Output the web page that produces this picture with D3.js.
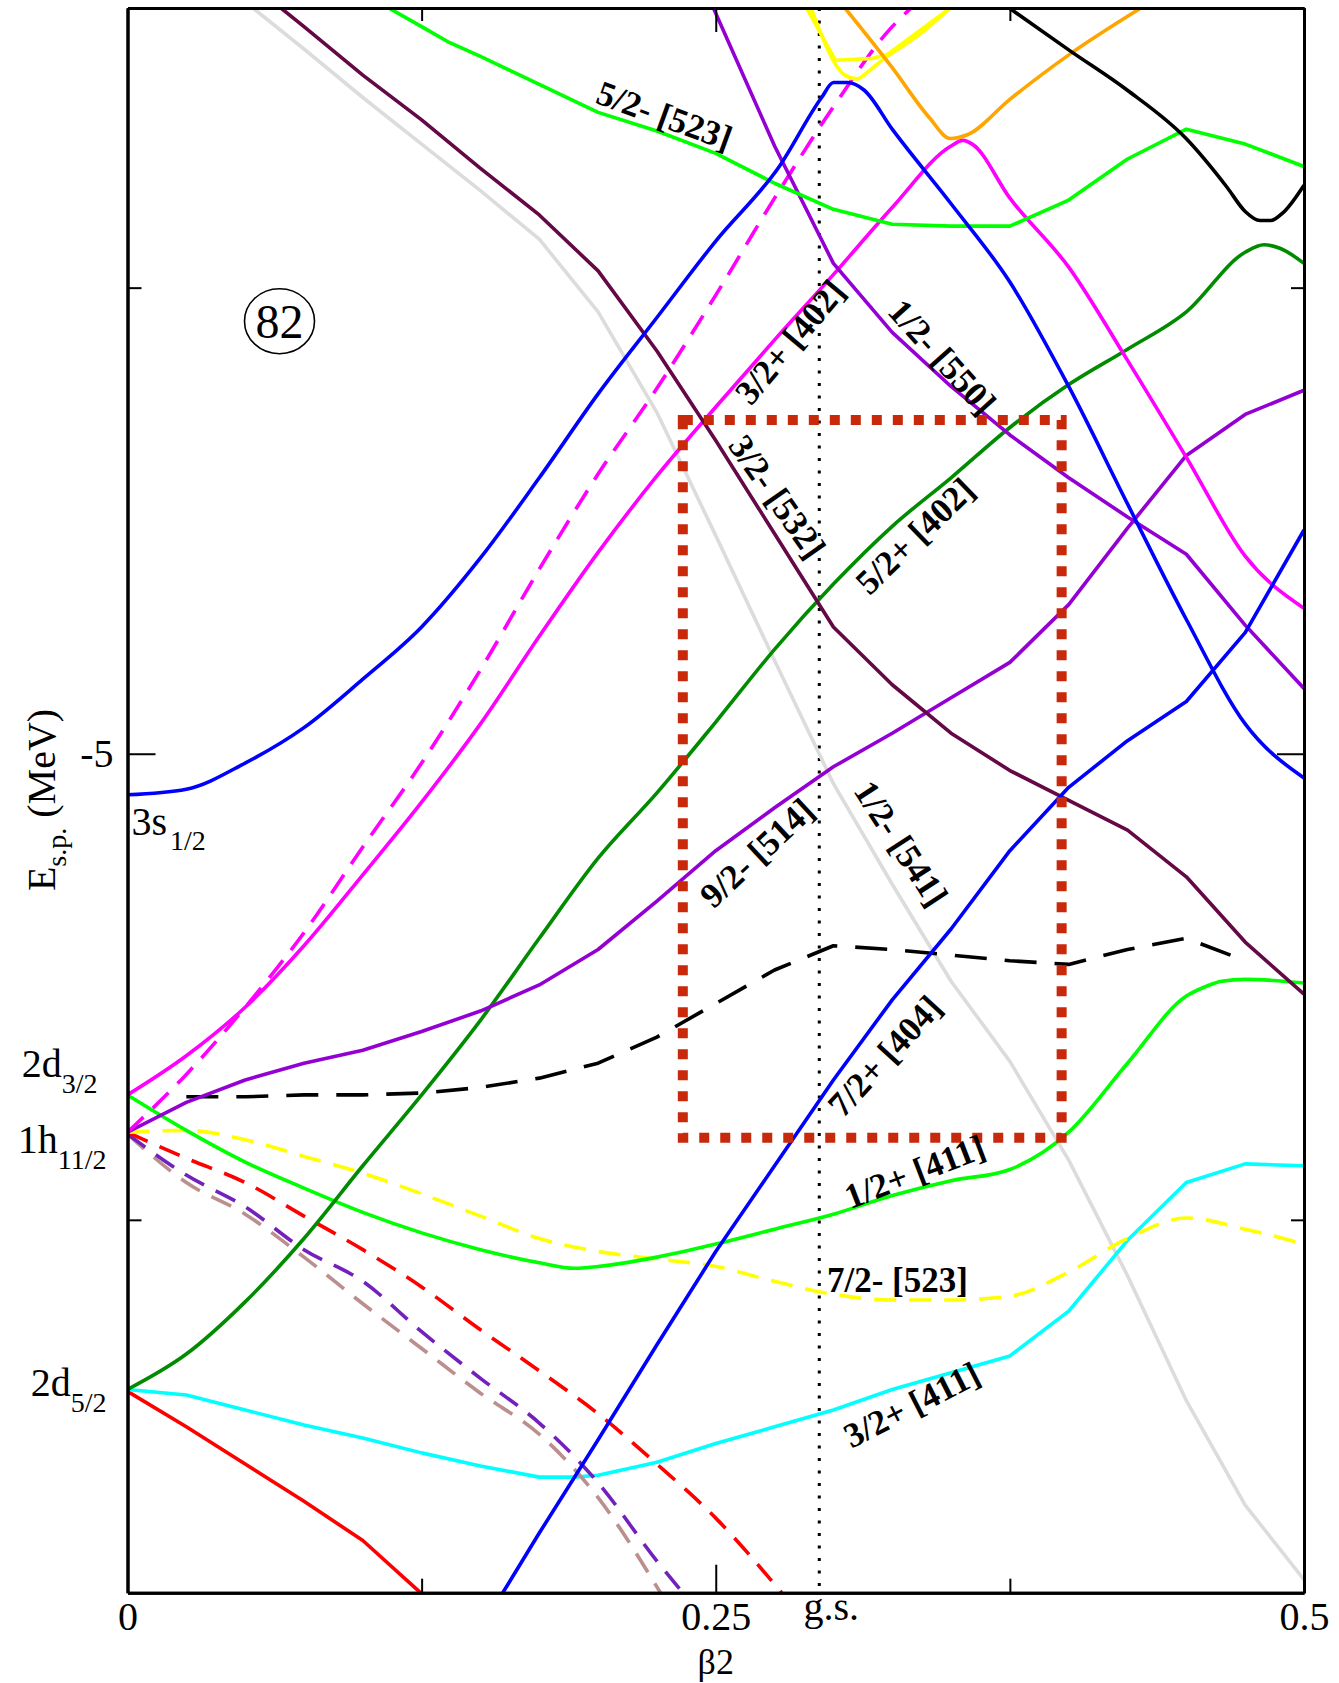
<!DOCTYPE html>
<html>
<head>
<meta charset="utf-8">
<script src="https://cdn.jsdelivr.net/npm/d3@7"></script>
<style>
  html, body { margin: 0; padding: 0; background: #fff; }
  svg { display: block; }
  text { font-family: "Liberation Serif", "Times New Roman", serif; fill: #000; }
</style>
</head>
<body>
<svg id="chart" width="1339" height="1683"></svg>
<script>
// ---------------- data: Nilsson single-particle levels, E (MeV) vs beta2 ----------------
const xMajorTicks = [0, 0.25, 0.5];
const xMajorLabels = ["0", "0.25", "0.5"];
const xMinorTicks = [0.125, 0.375];
const yMajorTicks = [-5];
const yMajorLabels = ["-5"];
const yMinorTicks = [-7.5, -2.5];

const groundStateBeta = 0.294;
const windowBeta = [0.236, 0.397];
const windowEnergy = [-7.06, -3.21];

// spherical parents at beta2 = 0
const sphericalNames = ["3s", "2d", "1h", "2d"];
const sphericalSubs = ["1/2", "3/2", "11/2", "5/2"];
const sphericalEnergy = [-5.22, -6.83, -7.03, -8.41];

// 1/2+ from 3s1/2
const blue3s = [[0,-5.22],[0.025,-5.19],[0.05,-5.05],[0.075,-4.86],[0.1,-4.60],[0.125,-4.32],[0.15,-3.95],[0.175,-3.52],[0.2,-3.07],[0.225,-2.66],[0.25,-2.25],[0.277,-1.85],[0.295,-1.48],[0.3,-1.40],[0.306,-1.40],[0.313,-1.44],[0.325,-1.65],[0.35,-2.05],[0.375,-2.47],[0.4,-3.03],[0.425,-3.66],[0.45,-4.28],[0.475,-4.84],[0.5,-5.13]];
// 1h11/2 branches
const magentaDashed = [[0,-7.03],[0.025,-6.72],[0.05,-6.36],[0.075,-5.96],[0.1,-5.50],[0.125,-5.05],[0.15,-4.55],[0.175,-4.01],[0.2,-3.50],[0.225,-3.04],[0.25,-2.54],[0.275,-2.02],[0.3,-1.53],[0.325,-1.10],[0.333,-1.0]];
const level9514 = [[0,-7.03],[0.025,-6.87],[0.05,-6.75],[0.075,-6.66],[0.1,-6.59],[0.125,-6.49],[0.15,-6.38],[0.175,-6.24],[0.2,-6.05],[0.225,-5.79],[0.25,-5.52],[0.275,-5.29],[0.3,-5.07],[0.325,-4.89],[0.35,-4.70],[0.375,-4.51],[0.4,-4.20],[0.425,-3.79],[0.45,-3.40],[0.475,-3.18],[0.5,-3.05]];
const level7523 = [[0,-7.03],[0.025,-7.02],[0.05,-7.07],[0.075,-7.16],[0.1,-7.25],[0.125,-7.36],[0.15,-7.48],[0.175,-7.60],[0.2,-7.67],[0.225,-7.71],[0.25,-7.75],[0.275,-7.83],[0.3,-7.90],[0.325,-7.93],[0.35,-7.93],[0.375,-7.91],[0.4,-7.78],[0.425,-7.60],[0.45,-7.49],[0.475,-7.55],[0.5,-7.63]];
const redDashed = [[0,-7.03],[0.025,-7.17],[0.05,-7.30],[0.075,-7.48],[0.1,-7.66],[0.125,-7.86],[0.15,-8.09],[0.175,-8.31],[0.2,-8.54],[0.225,-8.81],[0.25,-9.10],[0.278,-9.5]];
const indigoDashed = [[0,-7.04],[0.025,-7.26],[0.05,-7.43],[0.075,-7.66],[0.1,-7.83],[0.125,-8.10],[0.15,-8.35],[0.175,-8.59],[0.2,-8.91],[0.225,-9.33],[0.236,-9.5]];
const brownDashed = [[0,-7.04],[0.025,-7.30],[0.05,-7.47],[0.075,-7.70],[0.1,-7.95],[0.125,-8.19],[0.15,-8.43],[0.175,-8.65],[0.2,-8.99],[0.2265,-9.5]];
// 2d3/2 branches
const level32402 = [[0,-6.83],[0.025,-6.62],[0.05,-6.36],[0.075,-6.03],[0.1,-5.65],[0.125,-5.26],[0.15,-4.84],[0.175,-4.37],[0.2,-3.92],[0.225,-3.51],[0.25,-3.14],[0.275,-2.78],[0.3,-2.43],[0.325,-2.07],[0.35,-1.74],[0.355,-1.71],[0.359,-1.73],[0.375,-2.02],[0.4,-2.39],[0.425,-2.89],[0.45,-3.41],[0.475,-3.94],[0.5,-4.22]];
const level12411 = [[0,-6.83],[0.025,-7.02],[0.05,-7.19],[0.075,-7.33],[0.1,-7.46],[0.125,-7.57],[0.15,-7.66],[0.175,-7.73],[0.19,-7.76],[0.2,-7.75],[0.225,-7.70],[0.25,-7.63],[0.275,-7.55],[0.3,-7.47],[0.325,-7.37],[0.35,-7.29],[0.375,-7.23],[0.4,-7.03],[0.425,-6.66],[0.45,-6.30],[0.458,-6.25],[0.465,-6.22],[0.475,-6.21],[0.5,-6.23]];
// 2d5/2 branches
const level52402 = [[0,-8.41],[0.025,-8.22],[0.05,-7.94],[0.075,-7.60],[0.1,-7.21],[0.125,-6.83],[0.15,-6.43],[0.175,-5.99],[0.2,-5.56],[0.225,-5.21],[0.25,-4.83],[0.275,-4.44],[0.3,-4.09],[0.325,-3.78],[0.35,-3.52],[0.375,-3.25],[0.4,-3.02],[0.425,-2.83],[0.45,-2.63],[0.475,-2.31],[0.483,-2.27],[0.49,-2.29],[0.5,-2.37]];
const level32411 = [[0,-8.41],[0.025,-8.44],[0.05,-8.52],[0.075,-8.60],[0.1,-8.67],[0.125,-8.75],[0.15,-8.82],[0.175,-8.88],[0.19,-8.88],[0.2,-8.87],[0.225,-8.80],[0.25,-8.70],[0.275,-8.61],[0.3,-8.52],[0.325,-8.41],[0.35,-8.32],[0.375,-8.23],[0.4,-7.99],[0.425,-7.61],[0.45,-7.30],[0.475,-7.20],[0.5,-7.21]];
const redSolid = [[0,-8.42],[0.025,-8.61],[0.05,-8.81],[0.075,-9.01],[0.1,-9.22],[0.1245,-9.5]];
// intruder and high-lying orbitals
const level12550 = [[0.249,-1.0],[0.275,-1.74],[0.3,-2.37],[0.325,-2.74],[0.35,-3.03],[0.375,-3.29],[0.4,-3.52],[0.425,-3.73],[0.45,-3.93],[0.475,-4.31],[0.5,-4.65]];
const level32532 = [[0.0652,-1.0],[0.075,-1.10],[0.1,-1.36],[0.125,-1.60],[0.15,-1.86],[0.175,-2.11],[0.2,-2.41],[0.225,-2.84],[0.25,-3.32],[0.275,-3.82],[0.3,-4.32],[0.325,-4.63],[0.35,-4.89],[0.375,-5.09],[0.4,-5.25],[0.425,-5.41],[0.45,-5.66],[0.475,-6.01],[0.5,-6.29]];
const level12541 = [[0.0533,-1.0],[0.075,-1.22],[0.1,-1.48],[0.125,-1.73],[0.15,-1.98],[0.175,-2.24],[0.2,-2.63],[0.225,-3.17],[0.25,-3.83],[0.275,-4.50],[0.3,-5.16],[0.325,-5.70],[0.35,-6.22],[0.375,-6.65],[0.4,-7.18],[0.425,-7.80],[0.45,-8.47],[0.475,-9.03],[0.5,-9.43]];
const level52523 = [[0.111,-1.0],[0.125,-1.10],[0.136,-1.18],[0.15,-1.26],[0.175,-1.41],[0.2,-1.56],[0.225,-1.66],[0.25,-1.78],[0.275,-1.94],[0.3,-2.08],[0.325,-2.16],[0.35,-2.17],[0.375,-2.17],[0.4,-2.03],[0.425,-1.81],[0.45,-1.65],[0.475,-1.73],[0.5,-1.85]];
const level72404 = [[0.1595,-9.5],[0.175,-9.18],[0.2,-8.68],[0.225,-8.17],[0.25,-7.67],[0.275,-7.21],[0.3,-6.75],[0.325,-6.32],[0.35,-5.94],[0.375,-5.52],[0.4,-5.18],[0.425,-4.93],[0.45,-4.72],[0.475,-4.35],[0.5,-3.80]];
const blackDashed = [[0.025,-6.84],[0.05,-6.84],[0.075,-6.83],[0.1,-6.83],[0.125,-6.82],[0.15,-6.79],[0.175,-6.74],[0.2,-6.66],[0.225,-6.52],[0.25,-6.34],[0.275,-6.16],[0.3,-6.03],[0.325,-6.05],[0.35,-6.08],[0.375,-6.11],[0.4,-6.13],[0.425,-6.05],[0.45,-5.99],[0.475,-6.11]];
const yellowUpperA = [[0.2886,-1.0],[0.3008,-1.28],[0.3167,-1.27],[0.3228,-1.25],[0.3497,-1.0]];
const yellowUpperB = [[0.2905,-1.0],[0.3008,-1.30],[0.3048,-1.36],[0.3099,-1.38],[0.3149,-1.34],[0.3207,-1.28],[0.3368,-1.14],[0.3497,-1.0]];
const orangeLevel = [[0.3049,-1.0],[0.325,-1.32],[0.3409,-1.59],[0.3496,-1.70],[0.3569,-1.68],[0.375,-1.49],[0.4002,-1.25],[0.4307,-1.0]];
const blackSolid = [[0.3747,-1.0],[0.4006,-1.23],[0.4248,-1.44],[0.4499,-1.70],[0.4672,-1.96],[0.4749,-2.09],[0.4813,-2.14],[0.4859,-2.14],[0.4909,-2.10],[0.5,-1.95]];

// Nilsson labels Omega^pi [N nz Lambda]
const orbitalLabels = ["5/2- [523]", "3/2+ [402]", "1/2- [550]", "3/2- [532]", "5/2+ [402]", "9/2- [514]", "1/2- [541]", "7/2+ [404]", "1/2+ [411]", "7/2- [523]", "3/2+ [411]"];
const orbitalLabelBeta = [0.2283, 0.2814, 0.3464, 0.2763, 0.3345, 0.2674, 0.3289, 0.3217, 0.3345, 0.3272, 0.3332];
const orbitalLabelEnergy = [-1.575, -2.79, -2.87, -3.62, -3.83, -5.53, -5.48, -6.62, -7.24, -7.82, -8.49];
const orbitalLabelAngle = [20, -50, 48, 55, -44, -43, 57, -47.5, -21, 0, -27];

// ---------------- styles ----------------
const DASH = "22,13";
const levelStyles = [
  { pts: level12541,    color: "#dcdcdc", dash: null,    smooth: false },
  { pts: redSolid,      color: "#ff0000", dash: null,    smooth: false },
  { pts: level32411,    color: "#00ffff", dash: null,    smooth: false },
  { pts: brownDashed,   color: "#bc8f8f", dash: DASH,    smooth: true },
  { pts: indigoDashed,  color: "#7221bc", dash: DASH,    smooth: true },
  { pts: redDashed,     color: "#ff0000", dash: DASH,    smooth: true },
  { pts: level7523,     color: "#ffff00", dash: DASH,    smooth: true },
  { pts: level12411,    color: "#00ff00", dash: null,    smooth: true },
  { pts: blackDashed,   color: "#000000", dash: "32,18", smooth: false },
  { pts: level52402,    color: "#008b00", dash: null,    smooth: true },
  { pts: level9514,     color: "#9400d3", dash: null,    smooth: false },
  { pts: level32402,    color: "#ff00ff", dash: null,    smooth: true },
  { pts: magentaDashed, color: "#ff00ff", dash: DASH,    smooth: true },
  { pts: level32532,    color: "#640846", dash: null,    smooth: false },
  { pts: level12550,    color: "#9400d3", dash: null,    smooth: false },
  { pts: level52523,    color: "#00ff00", dash: null,    smooth: false },
  { pts: yellowUpperA,  color: "#ffff00", dash: null,    smooth: false },
  { pts: yellowUpperB,  color: "#ffff00", dash: null,    smooth: true },
  { pts: orangeLevel,   color: "#ffa500", dash: null,    smooth: true },
  { pts: blackSolid,    color: "#000000", dash: null,    smooth: true },
  { pts: blue3s,        color: "#0000ff", dash: null,    smooth: true },
  { pts: level72404,    color: "#0000ff", dash: null,    smooth: false }
];

// ---------------- drawing ----------------
const svg = d3.select("#chart");
const plot = { left: 127.5, right: 1304, top: 8, bottom: 1592.7 };
const x = d3.scaleLinear().domain([0, 0.5]).range([plot.left, plot.right]);
const y = d3.scaleLinear().domain([-9.5, -1]).range([plot.bottom, plot.top]);

svg.append("defs").append("clipPath").attr("id", "plotClip")
  .append("rect")
  .attr("x", plot.left).attr("y", plot.top)
  .attr("width", plot.right - plot.left).attr("height", plot.bottom - plot.top);

// ground-state deformation marker
svg.append("line")
  .attr("x1", x(groundStateBeta)).attr("x2", x(groundStateBeta))
  .attr("y1", y(-1)).attr("y2", y(-9.5))
  .attr("stroke", "#000").attr("stroke-width", 3)
  .attr("stroke-dasharray", "3,9.5");

const straight = d3.line().x(d => x(d[0])).y(d => y(d[1]));
const smoothLine = d3.line().x(d => x(d[0])).y(d => y(d[1])).curve(d3.curveMonotoneX);

svg.append("g").attr("clip-path", "url(#plotClip)")
  .selectAll("path")
  .data(levelStyles)
  .join("path")
  .attr("d", d => (d.smooth ? smoothLine : straight)(d.pts))
  .attr("fill", "none")
  .attr("stroke", d => d.color)
  .attr("stroke-width", 3.6)
  .attr("stroke-linejoin", "round")
  .attr("stroke-dasharray", d => d.dash);

// region of interest around the ground state
svg.append("rect")
  .attr("x", x(windowBeta[0])).attr("y", y(windowEnergy[1]))
  .attr("width", x(windowBeta[1]) - x(windowBeta[0]))
  .attr("height", y(windowEnergy[0]) - y(windowEnergy[1]))
  .attr("fill", "none")
  .attr("stroke", "#c8290b")
  .attr("stroke-width", 10)
  .attr("stroke-dasharray", "10,11");

// axes (ticks point inward on all four sides)
function styleAxis(g) {
  g.select(".domain").attr("stroke-width", 3);
  g.selectAll(".tick line").attr("stroke-width", 2);
  g.selectAll(".tick text").attr("font-size", 40)
    .attr("font-family", '"Liberation Serif", "Times New Roman", serif');
}
svg.append("g").attr("transform", `translate(0,${plot.bottom})`)
  .call(d3.axisBottom(x).tickValues(xMajorTicks).tickSizeInner(-28).tickSizeOuter(0)
    .tickPadding(9).tickFormat((d, i) => xMajorLabels[i]))
  .call(styleAxis);
svg.append("g").attr("transform", `translate(0,${plot.bottom})`)
  .call(d3.axisBottom(x).tickValues(xMinorTicks).tickSizeInner(-14).tickSizeOuter(0).tickFormat(""))
  .call(styleAxis);
svg.append("g").attr("transform", `translate(0,${plot.top})`)
  .call(d3.axisTop(x).tickValues(xMajorTicks).tickSizeInner(-24).tickSizeOuter(0).tickFormat(""))
  .call(styleAxis);
svg.append("g").attr("transform", `translate(0,${plot.top})`)
  .call(d3.axisTop(x).tickValues(xMinorTicks).tickSizeInner(-13).tickSizeOuter(0).tickFormat(""))
  .call(styleAxis);
svg.append("g").attr("transform", `translate(${plot.left},0)`)
  .call(d3.axisLeft(y).tickValues(yMajorTicks).tickSizeInner(-28).tickSizeOuter(0)
    .tickPadding(14).tickFormat((d, i) => yMajorLabels[i]))
  .call(styleAxis);
svg.append("g").attr("transform", `translate(${plot.left},0)`)
  .call(d3.axisLeft(y).tickValues(yMinorTicks).tickSizeInner(-14).tickSizeOuter(0).tickFormat(""))
  .call(styleAxis);
svg.append("g").attr("transform", `translate(${plot.right},0)`)
  .call(d3.axisRight(y).tickValues(yMajorTicks).tickSizeInner(-27).tickSizeOuter(0).tickFormat(""))
  .call(styleAxis);
svg.append("g").attr("transform", `translate(${plot.right},0)`)
  .call(d3.axisRight(y).tickValues(yMinorTicks).tickSizeInner(-13).tickSizeOuter(0).tickFormat(""))
  .call(styleAxis);

// axis titles
svg.append("text")
  .attr("x", x(0.25)).attr("y", 1674)
  .attr("text-anchor", "middle").attr("font-size", 36)
  .text("β2");

const yTitle = svg.append("text")
  .attr("transform", "translate(55,800) rotate(-90)")
  .attr("text-anchor", "middle").attr("font-size", 40);
yTitle.append("tspan").text("E");
yTitle.append("tspan").attr("font-size", 28).attr("dy", 11).text("s.p.");
yTitle.append("tspan").attr("dy", -11).text(" (MeV)");

// g.s. marker label
svg.append("text")
  .attr("x", x(groundStateBeta) + 12).attr("y", 1620)
  .attr("text-anchor", "middle").attr("font-size", 40)
  .text("g.s.");

// spherical shell labels at beta2 = 0
const sphOffsets = [[4, 40, "start"], [-30, -18, "end"], [-21, 21, "end"], [-21, 7, "end"]];
sphericalNames.forEach((nm, i) => {
  const [dx, dy, anchor] = sphOffsets[i];
  const t = svg.append("text")
    .attr("x", x(0) + dx).attr("y", y(sphericalEnergy[i]) + dy)
    .attr("font-size", 40);
  if (anchor === "start") {
    t.append("tspan").text(nm);
    t.append("tspan").attr("font-size", 28).attr("dy", 15).attr("dx", 3).text(sphericalSubs[i]);
  } else {
    // right-align the whole label so the subscript ends near the axis
    t.attr("text-anchor", "end");
    t.append("tspan").text(nm);
    t.append("tspan").attr("font-size", 28).attr("dy", 16).text(sphericalSubs[i]);
  }
});

// magic number 82
const magic = svg.append("g").attr("transform", `translate(${x(0.0646)},${y(-2.68)})`);
magic.append("ellipse").attr("rx", 35).attr("ry", 32.5)
  .attr("fill", "none").attr("stroke", "#000").attr("stroke-width", 1.6);
magic.append("text").attr("text-anchor", "middle").attr("dy", "0.35em")
  .attr("font-size", 48).text("82");

// Nilsson asymptotic labels
svg.append("g").selectAll("text")
  .data(orbitalLabels)
  .join("text")
  .attr("transform", (d, i) =>
    `translate(${x(orbitalLabelBeta[i])},${y(orbitalLabelEnergy[i])}) rotate(${orbitalLabelAngle[i]})`)
  .attr("text-anchor", "middle")
  .attr("dy", "0.35em")
  .attr("font-size", 35)
  .attr("font-weight", "bold")
  .text(d => d);
</script>
</body>
</html>
